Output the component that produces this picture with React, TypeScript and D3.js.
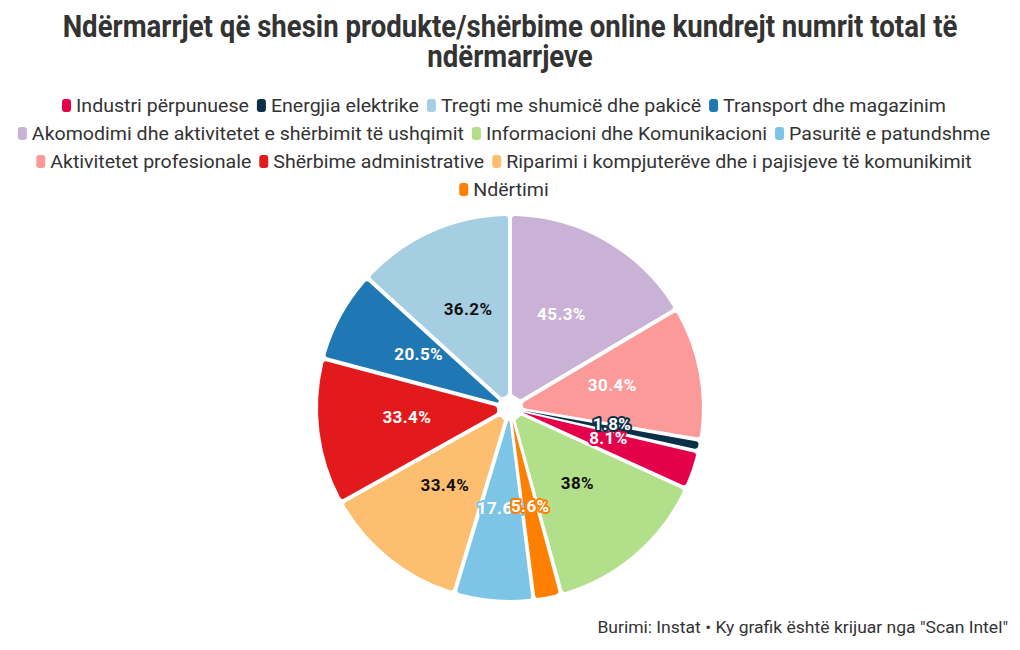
import * as d3 from 'd3'
import { useEffect, useRef } from 'react'

const WIDTH = 1020
const HEIGHT = 650
const CX = 510
const CY = 408
const OUTER = 192
const INNER = 13
const LABEL_R = 104

const TITLE_LINES = [
  'Ndërmarrjet që shesin produkte/shërbime online kundrejt numrit total të',
  'ndërmarrjeve',
]
const SOURCE = 'Burimi: Instat • Ky grafik është krijuar nga "Scan Intel"'

// legend order
const CATEGORIES = [
  'Industri përpunuese',
  'Energjia elektrike',
  'Tregti me shumicë dhe pakicë',
  'Transport dhe magazinim',
  'Akomodimi dhe aktivitetet e shërbimit të ushqimit',
  'Informacioni dhe Komunikacioni',
  'Pasuritë e patundshme',
  'Aktivitetet profesionale',
  'Shërbime administrative',
  'Riparimi i kompjuterëve dhe i pajisjeve të komunikimit',
  'Ndërtimi',
]
const VALUES = [8.1, 1.8, 36.2, 20.5, 45.3, 38, 17.6, 30.4, 33.4, 33.4, 5.6]

const COLORS = [
  '#e5004b', '#0b2f47', '#a6cee3', '#1f78b4', '#cab2d6', '#b2df8a',
  '#7dc5e6', '#fb9a99', '#e31a1c', '#fdbf6f', '#ff7f00',
]
const LABEL_COLORS = [
  '#fff', '#fff', '#111', '#fff', '#fff', '#111', '#fff', '#fff', '#fff', '#111', '#fff',
]
const LEGEND_ROWS = [[0, 1, 2, 3], [4, 5, 6], [7, 8, 9], [10]]

const TEXT = '#333'
const TITLE_FONT = 'bold 31px Roboto'
const LEGEND_FONT = '19px Roboto'
const SOURCE_FONT = '17px Roboto'
const LABEL_FONT = 'bold 17px Roboto'

const ctx = document.createElement('canvas').getContext('2d')!
const measure = (text: string, font: string) => {
  ctx.font = font
  return ctx.measureText(text).width
}

function drawChart(node: SVGSVGElement) {
  const svg = d3.select(node)
  svg.selectAll('*').remove()

  // title, squeezed to the width of the original
  const titleScale = 895 / measure(TITLE_LINES[0], TITLE_FONT)
  TITLE_LINES.forEach((line, i) => {
    svg
      .append('text')
      .attr('transform', `translate(${CX},${37 + i * 30}) scale(${titleScale},1)`)
      .attr('text-anchor', 'middle')
      .style('font', TITLE_FONT)
      .attr('fill', TEXT)
      .text(line)
  })

  // legend
  const SW = 9
  const SH = 13
  const GAP_SW = 5
  const GAP_ITEM = 8
  const row0 = d3.sum(LEGEND_ROWS[0], (i) => measure(CATEGORIES[i], LEGEND_FONT))
  const legendScale = (884 - LEGEND_ROWS[0].length * (SW + GAP_SW) - 3 * GAP_ITEM) / row0
  const legend = svg.append('g')
  LEGEND_ROWS.forEach((row, r) => {
    const widths = row.map((i) => measure(CATEGORIES[i], LEGEND_FONT) * legendScale)
    const total = d3.sum(widths) + row.length * (SW + GAP_SW) + (row.length - 1) * GAP_ITEM
    let x = 504 - total / 2
    const y = 112 + r * 28
    row.forEach((i, k) => {
      legend
        .append('rect')
        .attr('x', x)
        .attr('y', y - SH)
        .attr('width', SW)
        .attr('height', SH)
        .attr('rx', 3)
        .attr('fill', COLORS[i])
      legend
        .append('text')
        .attr('x', x + SW + GAP_SW)
        .attr('y', y)
        .attr('textLength', widths[k])
        .attr('lengthAdjust', 'spacingAndGlyphs')
        .style('font', LEGEND_FONT)
        .attr('fill', TEXT)
        .text(CATEGORIES[i])
      x += SW + GAP_SW + widths[k] + GAP_ITEM
    })
  })

  // pie, slices in alphabetical order clockwise from the top
  const pie = d3
    .pie<number>()
    .value((i) => VALUES[i])
    .sort((a, b) => CATEGORIES[a].localeCompare(CATEGORIES[b], 'sq'))
    .padAngle(0.021)
  const arcs = pie(d3.range(CATEGORIES.length))
  const arc = d3
    .arc<d3.PieArcDatum<number>>()
    .innerRadius(INNER)
    .outerRadius(OUTER)
    .cornerRadius(3)
  const labelArc = d3
    .arc<d3.PieArcDatum<number>>()
    .innerRadius(LABEL_R)
    .outerRadius(LABEL_R)

  const g = svg.append('g').attr('transform', `translate(${CX},${CY})`)
  g.selectAll('path')
    .data(arcs)
    .join('path')
    .attr('d', arc)
    .attr('fill', (d) => COLORS[d.data])

  // labels drawn last-slice-first so the earlier slices' labels sit on top
  const byAngle = arcs.slice().sort((a, b) => b.startAngle - a.startAngle)
  g.append('g')
    .selectAll('text')
    .data(byAngle)
    .join('text')
    .attr('x', (d) => labelArc.centroid(d)[0])
    .attr('y', (d) => labelArc.centroid(d)[1] - 4)
    .attr('text-anchor', 'middle')
    .attr('dominant-baseline', 'central')
    .style('font', LABEL_FONT)
    .attr('letter-spacing', 0.4)
    .attr('fill', (d) => LABEL_COLORS[d.data])
    .attr('stroke', (d) => COLORS[d.data])
    .attr('stroke-width', 4)
    .attr('stroke-linejoin', 'round')
    .attr('paint-order', 'stroke')
    .text((d) => `${VALUES[d.data]}%`)

  // source
  const sourceScale = 411 / measure(SOURCE, SOURCE_FONT)
  svg
    .append('text')
    .attr('transform', `translate(1008,633) scale(${sourceScale},1)`)
    .attr('text-anchor', 'end')
    .style('font', SOURCE_FONT)
    .attr('fill', TEXT)
    .text(SOURCE)
}

export default function App() {
  const ref = useRef<SVGSVGElement>(null)
  useEffect(() => {
    if (ref.current) drawChart(ref.current)
  }, [])

  return (
    <div style={{ position: 'fixed', left: 0, top: 0, background: '#fff' }}>
      <svg ref={ref} width={WIDTH} height={HEIGHT} style={{ display: 'block' }} />
    </div>
  )
}
